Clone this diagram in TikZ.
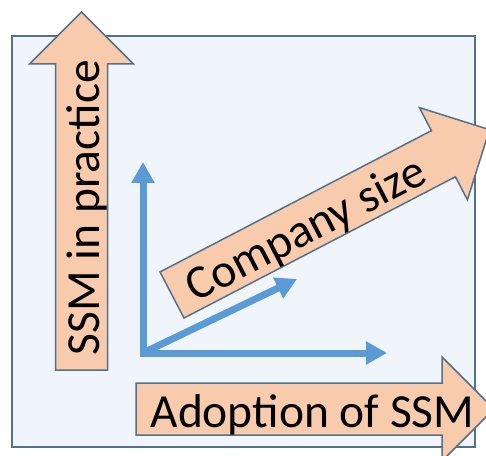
\documentclass[tikz,border=0pt]{standalone}
\usepackage{fontspec}
\setmainfont{Carlito}
\usetikzlibrary{arrows.meta}

\definecolor{peach}{HTML}{F8CBAD}
\definecolor{slate}{HTML}{56708A}
\definecolor{paleblue}{HTML}{EFF5FB}
\definecolor{axisblue}{HTML}{5B9BD5}

\tikzset{
  fatarrow/.style={fill=peach,draw=slate,line width=1.5pt,line join=miter},
  axislabel/.style={anchor=base,inner sep=0pt,font=\fontsize{47.5}{52}\selectfont},
  smallaxis/.style={draw=axisblue,line width=7pt,line join=miter,
    arrows={-Triangle[width=22pt,length=21pt]}}
}

% name, tail, angle, text position along the arrow, text
\newcommand{\fatarrow}[5]{%
  \begin{scope}[shift={#2},rotate=#3]
    \draw[fatarrow] (0,-26) -- (306,-26) -- (306,-52) -- (358,0) -- (306,52) -- (306,26) -- (0,26) -- cycle;
    \node[axislabel,rotate=#3] (#1) at (#4,-18) {#5};
  \end{scope}}

\begin{document}
\begin{tikzpicture}[x=1pt,y=1pt]
\useasboundingbox (0,0) rectangle (486,455);
\clip (0,0) rectangle (486,455);
\draw[fill=paleblue,draw=slate,line width=2pt] (12,8) rectangle (475,419);

\fatarrow{practice}{(81.5,85)}{90}{162.5}{SSM in practice}
\fatarrow{adoption}{(136,46)}{0}{176.5}{Adoption of SSM}
\fatarrow{size}{(172,160)}{27.5}{149}{Company size}

\coordinate (o) at (143,102);
\coordinate (up) at (143,293);
\coordinate (right) at (387,102);
\coordinate (diag) at (297,176);
\draw[smallaxis] (o) -- (diag);
\draw[smallaxis,arrows={Triangle[width=22pt,length=21pt]-Triangle[width=22pt,length=21pt]}] (up) -- (o) -- (right);
\end{tikzpicture}
\end{document}
